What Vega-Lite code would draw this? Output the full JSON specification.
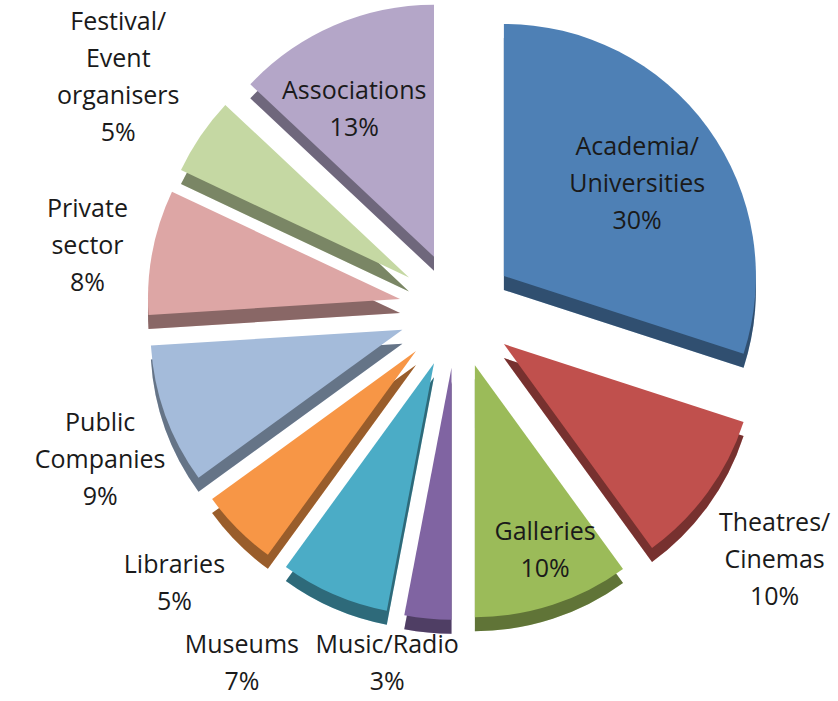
{
  "$schema": "https://vega.github.io/schema/vega-lite/v6.json",
  "width": 762,
  "height": 620,
  "autosize": "none",
  "padding": {"left": 76, "top": 0, "right": 0, "bottom": 81},
  "background": "white",
  "config": {
    "view": {"stroke": null},
    "text": {"font": "Open Sans", "fontSize": 25, "lineBreak": "\n", "lineHeight": 37, "color": "#1a1a1a", "align": "center", "baseline": "middle"}
  },
  "data": {
    "values": [
      {"idx": 1, "category": "Academia/Universities", "value": 30, "label": "Academia/\nUniversities\n30%"},
      {"idx": 2, "category": "Theatres/Cinemas", "value": 10, "label": "Theatres/\nCinemas\n10%"},
      {"idx": 3, "category": "Galleries", "value": 10, "label": "Galleries\n10%"},
      {"idx": 4, "category": "Music/Radio", "value": 3, "label": "Music/Radio\n3%"},
      {"idx": 5, "category": "Museums", "value": 7, "label": "Museums\n7%"},
      {"idx": 6, "category": "Libraries", "value": 5, "label": "Libraries\n5%"},
      {"idx": 7, "category": "Public Companies", "value": 9, "label": "Public\nCompanies\n9%"},
      {"idx": 8, "category": "Private sector", "value": 8, "label": "Private\nsector\n8%"},
      {"idx": 9, "category": "Festival/Event organisers", "value": 5, "label": "Festival/\nEvent\norganisers\n5%"},
      {"idx": 10, "category": "Associations", "value": 13, "label": "Associations\n13%"}
    ]
  },
  "transform": [
    {"stack": "value", "groupby": [], "sort": [{"field": "idx", "order": "ascending"}], "as": ["v0", "v1"]}
  ],
  "layer": [
    {
      "encoding": {
        "theta": {"field": "v0", "type": "quantitative", "scale": {"domain": [0, 100]}},
        "theta2": {"field": "v1"},
        "color": {
          "field": "category",
          "type": "nominal",
          "legend": null,
          "scale": {
            "domain": ["Academia/Universities", "Theatres/Cinemas", "Galleries", "Music/Radio", "Museums", "Libraries", "Public Companies", "Private sector", "Festival/Event organisers", "Associations"],
            "range": ["#4e80b5", "#c0504d", "#9bbb59", "#8064a2", "#4bacc6", "#f79646", "#a4bbda", "#dda6a5", "#c5d8a3", "#b4a6c8"]
          }
        }
      },
      "layer": [
        {"transform": [{"filter": {"field": "category", "equal": "Academia/Universities"}}], "layer": [
          {"mark": {"type": "arc", "outerRadius": 252, "xOffset": 46.9, "yOffset": -20.1}},
          {"mark": {"type": "arc", "outerRadius": 252, "xOffset": 46.9, "yOffset": -20.1, "opacity": 0.38}, "encoding": {"color": {"value": "black"}}}
        ]},
        {"transform": [{"filter": {"field": "category", "equal": "Theatres/Cinemas"}}], "layer": [
          {"mark": {"type": "arc", "outerRadius": 252, "xOffset": 46.9, "yOffset": 48.1}},
          {"mark": {"type": "arc", "outerRadius": 252, "xOffset": 46.9, "yOffset": 48.1, "opacity": 0.38}, "encoding": {"color": {"value": "black"}}}
        ]},
        {"transform": [{"filter": {"field": "category", "equal": "Galleries"}}], "layer": [
          {"mark": {"type": "arc", "outerRadius": 252, "xOffset": 17.9, "yOffset": 69.2}},
          {"mark": {"type": "arc", "outerRadius": 252, "xOffset": 17.9, "yOffset": 69.2, "opacity": 0.38}, "encoding": {"color": {"value": "black"}}}
        ]},
        {"transform": [{"filter": {"field": "category", "equal": "Music/Radio"}}], "layer": [
          {"mark": {"type": "arc", "outerRadius": 252, "xOffset": -5.5, "yOffset": 71.7}},
          {"mark": {"type": "arc", "outerRadius": 252, "xOffset": -5.5, "yOffset": 71.7, "opacity": 0.38}, "encoding": {"color": {"value": "black"}}}
        ]},
        {"transform": [{"filter": {"field": "category", "equal": "Museums"}}], "layer": [
          {"mark": {"type": "arc", "outerRadius": 252, "xOffset": -23.0, "yOffset": 67.2}},
          {"mark": {"type": "arc", "outerRadius": 252, "xOffset": -23.0, "yOffset": 67.2, "opacity": 0.38}, "encoding": {"color": {"value": "black"}}}
        ]},
        {"transform": [{"filter": {"field": "category", "equal": "Libraries"}}], "layer": [
          {"mark": {"type": "arc", "outerRadius": 252, "xOffset": -41.0, "yOffset": 55.0}},
          {"mark": {"type": "arc", "outerRadius": 252, "xOffset": -41.0, "yOffset": 55.0, "opacity": 0.38}, "encoding": {"color": {"value": "black"}}}
        ]},
        {"transform": [{"filter": {"field": "category", "equal": "Public Companies"}}], "layer": [
          {"mark": {"type": "arc", "outerRadius": 252, "xOffset": -54.6, "yOffset": 33.7}},
          {"mark": {"type": "arc", "outerRadius": 252, "xOffset": -54.6, "yOffset": 33.7, "opacity": 0.38}, "encoding": {"color": {"value": "black"}}}
        ]},
        {"transform": [{"filter": {"field": "category", "equal": "Private sector"}}], "layer": [
          {"mark": {"type": "arc", "outerRadius": 252, "xOffset": -57.0, "yOffset": 3.1}},
          {"mark": {"type": "arc", "outerRadius": 252, "xOffset": -57.0, "yOffset": 3.1, "opacity": 0.38}, "encoding": {"color": {"value": "black"}}}
        ]},
        {"transform": [{"filter": {"field": "category", "equal": "Festival/Event organisers"}}], "layer": [
          {"mark": {"type": "arc", "outerRadius": 252, "xOffset": -48.0, "yOffset": -18.6}},
          {"mark": {"type": "arc", "outerRadius": 252, "xOffset": -48.0, "yOffset": -18.6, "opacity": 0.38}, "encoding": {"color": {"value": "black"}}}
        ]},
        {"transform": [{"filter": {"field": "category", "equal": "Associations"}}], "layer": [
          {"mark": {"type": "arc", "outerRadius": 252, "xOffset": -23.0, "yOffset": -39.2}},
          {"mark": {"type": "arc", "outerRadius": 252, "xOffset": -23.0, "yOffset": -39.2, "opacity": 0.38}, "encoding": {"color": {"value": "black"}}}
        ]},
        {"transform": [{"filter": {"field": "category", "equal": "Academia/Universities"}}], "mark": {"type": "arc", "outerRadius": 252, "xOffset": 46.9, "yOffset": -34.1}},
        {"transform": [{"filter": {"field": "category", "equal": "Theatres/Cinemas"}}], "mark": {"type": "arc", "outerRadius": 252, "xOffset": 46.9, "yOffset": 34.1}},
        {"transform": [{"filter": {"field": "category", "equal": "Galleries"}}], "mark": {"type": "arc", "outerRadius": 252, "xOffset": 17.9, "yOffset": 55.2}},
        {"transform": [{"filter": {"field": "category", "equal": "Music/Radio"}}], "mark": {"type": "arc", "outerRadius": 252, "xOffset": -5.5, "yOffset": 57.7}},
        {"transform": [{"filter": {"field": "category", "equal": "Museums"}}], "mark": {"type": "arc", "outerRadius": 252, "xOffset": -23.0, "yOffset": 53.2}},
        {"transform": [{"filter": {"field": "category", "equal": "Libraries"}}], "mark": {"type": "arc", "outerRadius": 252, "xOffset": -41.0, "yOffset": 41.0}},
        {"transform": [{"filter": {"field": "category", "equal": "Public Companies"}}], "mark": {"type": "arc", "outerRadius": 252, "xOffset": -54.6, "yOffset": 19.7}},
        {"transform": [{"filter": {"field": "category", "equal": "Private sector"}}], "mark": {"type": "arc", "outerRadius": 252, "xOffset": -57.0, "yOffset": -10.9}},
        {"transform": [{"filter": {"field": "category", "equal": "Festival/Event organisers"}}], "mark": {"type": "arc", "outerRadius": 252, "xOffset": -48.0, "yOffset": -32.6}},
        {"transform": [{"filter": {"field": "category", "equal": "Associations"}}], "mark": {"type": "arc", "outerRadius": 252, "xOffset": -23.0, "yOffset": -53.2}}
      ]
    },
    {
      "encoding": {
        "theta": {"field": "value", "type": "quantitative", "stack": true, "scale": {"domain": [0, 100]}},
        "order": {"field": "idx", "type": "quantitative"},
        "detail": {"field": "category", "type": "nominal"}
      },
      "layer": [
        {"mark": {"type": "text", "radius": 220, "thetaOffset": 0.017, "dy": -37},
         "encoding": {"text": {"condition": {"test": "datum.category === 'Academia/Universities'", "field": "label", "type": "nominal"}, "value": ""}}},
        {"mark": {"type": "text", "radius": 225, "thetaOffset": -0.066, "dy": -18.5},
         "encoding": {"text": {"condition": {"test": "datum.category === 'Associations'", "field": "label", "type": "nominal"}, "value": ""}}},
        {"mark": {"type": "text", "radius": 256, "thetaOffset": -0.037, "dy": -18.5},
         "encoding": {"text": {"condition": {"test": "datum.category === 'Galleries'", "field": "label", "type": "nominal"}, "value": ""}}},
        {"mark": {"type": "text", "radius": 404, "thetaOffset": 0.038, "dy": -37},
         "encoding": {"text": {"condition": {"test": "datum.category === 'Theatres/Cinemas'", "field": "label", "type": "nominal"}, "value": ""}}},
        {"mark": {"type": "text", "radius": 393, "thetaOffset": 0.017, "dy": -18.5},
         "encoding": {"text": {"condition": {"test": "datum.category === 'Libraries'", "field": "label", "type": "nominal"}, "value": ""}}},
        {"mark": {"type": "text", "radius": 387, "thetaOffset": -0.052, "dy": -37},
         "encoding": {"text": {"condition": {"test": "datum.category === 'Public Companies'", "field": "label", "type": "nominal"}, "value": ""}}},
        {"mark": {"type": "text", "radius": 375, "thetaOffset": -0.017, "dy": -37},
         "encoding": {"text": {"condition": {"test": "datum.category === 'Private sector'", "field": "label", "type": "nominal"}, "value": ""}}},
        {"mark": {"type": "text", "radius": 411, "thetaOffset": 0.005, "dy": -55.5},
         "encoding": {"text": {"condition": {"test": "datum.category === 'Festival/Event organisers'", "field": "label", "type": "nominal"}, "value": ""}}},
        {"mark": {"type": "text", "radius": 360, "thetaOffset": 0.101, "dy": -18.5},
         "encoding": {"text": {"condition": {"test": "datum.category === 'Music/Radio'", "field": "label", "type": "nominal"}, "value": ""}}},
        {"mark": {"type": "text", "radius": 414, "thetaOffset": 0.138, "dy": -18.5},
         "encoding": {"text": {"condition": {"test": "datum.category === 'Museums'", "field": "label", "type": "nominal"}, "value": ""}}}
      ]
    }
  ]
}
